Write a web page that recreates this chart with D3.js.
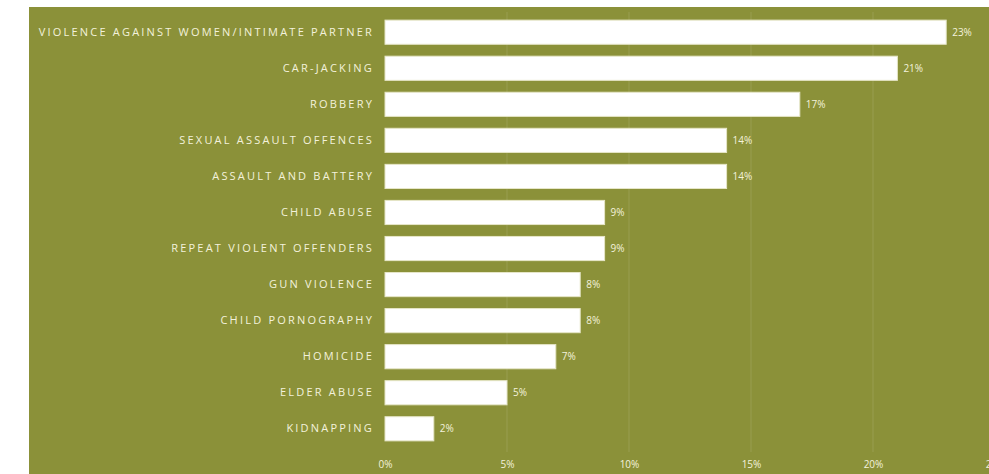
<!DOCTYPE html>
<html lang="en">
<head>
	<meta charset="UTF-8"/>
	<title>Crime priorities bar chart</title>
	<script src="https://d3js.org/d3.v7.min.js"></script>
	<style>
		body { margin: 0; background: #fff; }
		text { font-family: "Open Sans", "Noto Sans", sans-serif; }
	</style>
</head>
<body>
	<script>
	// ***Data***
		var categories = [
			"VIOLENCE AGAINST WOMEN/INTIMATE PARTNER",
			"CAR-JACKING",
			"ROBBERY",
			"SEXUAL ASSAULT OFFENCES",
			"ASSAULT AND BATTERY",
			"CHILD ABUSE",
			"REPEAT VIOLENT OFFENDERS",
			"GUN VIOLENCE",
			"CHILD PORNOGRAPHY",
			"HOMICIDE",
			"ELDER ABUSE",
			"KIDNAPPING"
		];
		var values = [23, 21, 17, 14, 14, 9, 9, 8, 8, 7, 5, 2];
		var ticks = [0, 5, 10, 15, 20, 25];

	// ***Layout***
		var w = 989;
		var h = 474;
		var bg = "#8b9139";
		var ink = "#f3f1dc";

		var xScale = d3.scaleLinear()
					.domain([0, 25])
					.range([385, 995]);

		var yScale = d3.scaleBand()
					.domain(categories)
					.range([14, 447])
					.paddingInner(0.33)
					.paddingOuter(0.17);

		var svg = d3.select("body")
					.append("svg")
					.attr("width", w)
					.attr("height", h);

		svg.append("rect")
			.attr("x", 29)
			.attr("y", 7)
			.attr("width", w - 29)
			.attr("height", h - 7)
			.attr("fill", bg);

		// gridlines
		svg.selectAll("line.grid")
			.data(ticks.slice(1))
			.enter()
			.append("line")
			.attr("class", "grid")
			.attr("x1", function(d) { return xScale(d); })
			.attr("x2", function(d) { return xScale(d); })
			.attr("y1", 12)
			.attr("y2", 452)
			.attr("stroke", "#989d50")
			.attr("stroke-width", 1);

		// bars
		svg.selectAll("rect.bar")
			.data(values)
			.enter()
			.append("rect")
			.attr("class", "bar")
			.attr("x", xScale(0))
			.attr("y", function(d, i) { return yScale(categories[i]); })
			.attr("width", function(d) { return xScale(d) - xScale(0); })
			.attr("height", yScale.bandwidth())
			.attr("fill", "#ffffff")
			.attr("stroke", "#e6e6c8")
			.attr("stroke-width", 1);

		// value labels
		svg.selectAll("text.val")
			.data(values)
			.enter()
			.append("text")
			.attr("class", "val")
			.attr("x", function(d) { return xScale(d) + 6; })
			.attr("y", function(d, i) { return yScale(categories[i]) + yScale.bandwidth() / 2; })
			.attr("dy", "0.35em")
			.attr("font-size", 10)
			.attr("fill", ink)
			.text(function(d) { return d + "%"; });

		// category labels
		var yAxis = d3.axisLeft(yScale).tickSize(0).tickPadding(11);
		svg.append("g")
			.attr("transform", "translate(385,0)")
			.call(yAxis)
			.call(function(g) { g.select(".domain").remove(); })
			.selectAll("text")
			.attr("font-family", "'Open Sans', 'Noto Sans', sans-serif")
			.attr("font-size", 11)
			.attr("letter-spacing", "2.2px")
			.attr("fill", ink);

		// x axis
		var xAxis = d3.axisBottom(xScale)
					.tickValues(ticks)
					.tickSize(0)
					.tickFormat(function(d) { return d + "%"; });
		svg.append("g")
			.attr("transform", "translate(0,458)")
			.call(xAxis)
			.call(function(g) { g.select(".domain").remove(); })
			.selectAll("text")
			.attr("font-family", "'Open Sans', 'Noto Sans', sans-serif")
			.attr("font-size", 10)
			.attr("fill", ink);
	</script>
</body>
</html>
